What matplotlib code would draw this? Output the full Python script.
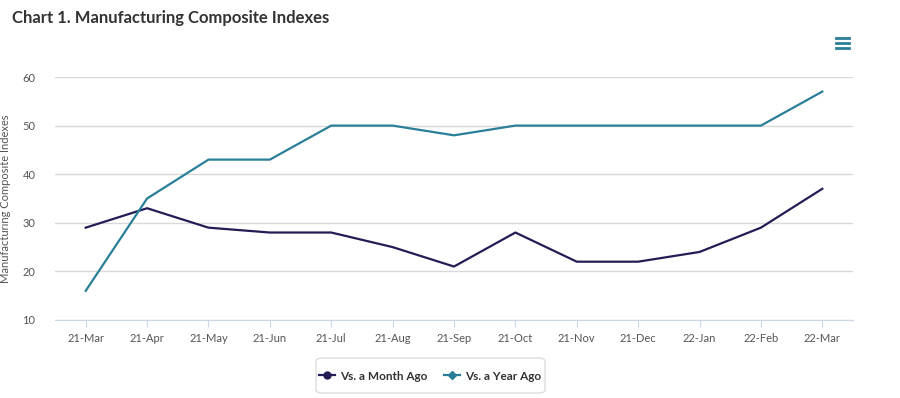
import matplotlib
matplotlib.use("Agg")
import matplotlib.pyplot as plt
from matplotlib.lines import Line2D
from matplotlib.patches import FancyBboxPatch

months = ["21-Mar", "21-Apr", "21-May", "21-Jun", "21-Jul", "21-Aug", "21-Sep",
          "21-Oct", "21-Nov", "21-Dec", "22-Jan", "22-Feb", "22-Mar"]
month_ago = [29, 33, 29, 28, 28, 25, 21, 28, 22, 22, 24, 29, 37]
year_ago = [16, 35, 43, 43, 50, 50, 48, 50, 50, 50, 50, 50, 57]

navy = "#231d55"
teal = "#2a7f98"
W, H = 900, 398

plt.rcParams["font.family"] = ["Lato", "DejaVu Sans"]

fig = plt.figure(figsize=(W / 100, H / 100), dpi=100)
ax = fig.add_axes([55 / W, 1 - 320 / H, (853 - 55) / W, (320 - 77) / H])

x = range(len(months))
ax.plot(x, month_ago, color=navy, lw=1.6, label="Vs. a Month Ago")
ax.plot(x, year_ago, color=teal, lw=1.6, label="Vs. a Year Ago")

ax.set_xlim(-0.5, len(months) - 0.5)
ax.set_ylim(10, 60)
ax.set_yticks([10, 20, 30, 40, 50, 60])
ax.set_xticks(list(x))
ax.set_xticklabels(months)
ax.grid(axis="y", color="#d9d9d9", lw=1)
ax.set_axisbelow(True)
for s in ["top", "right", "left"]:
    ax.spines[s].set_visible(False)
ax.spines["bottom"].set_color("#ccd6eb")
ax.tick_params(axis="y", length=0, labelsize=8, colors="#555555", pad=14)
ax.tick_params(axis="x", length=5, color="#ccd6eb", labelsize=8, labelcolor="#555555", pad=4)
ax.set_ylabel("Manufacturing Composite Indexes", fontsize=8, color="#555555", labelpad=8)

fig.text(12 / W, 1 - 18 / H, "Chart 1. Manufacturing Composite Indexes",
         fontsize=12, fontweight="bold", color="#333333", va="center", ha="left")

# menu icon
for yy in [38, 43, 48]:
    fig.add_artist(Line2D([836 / W, 849 / W], [1 - yy / H, 1 - yy / H],
                          color=teal, lw=2, transform=fig.transFigure))

# legend box
box = FancyBboxPatch((316 / W, 1 - 393 / H), (545 - 316) / W, (393 - 358) / H,
                     boxstyle="round,pad=0,rounding_size=0.008", transform=fig.transFigure,
                     facecolor="white", edgecolor="#dddddd", lw=1)
fig.add_artist(box)
handles = [Line2D([], [], color=navy, lw=1.6, marker="o", markersize=5),
           Line2D([], [], color=teal, lw=1.6, marker="D", markersize=4)]
fig.legend(handles, ["Vs. a Month Ago", "Vs. a Year Ago"], loc="center",
           bbox_to_anchor=(430 / W, 1 - 376 / H), ncol=2, frameon=False,
           prop={"size": 8.5, "weight": "bold"}, labelcolor="#333333",
           handlelength=1.4, handletextpad=0.4, columnspacing=1.4)

fig.savefig("out.png", dpi=100)
